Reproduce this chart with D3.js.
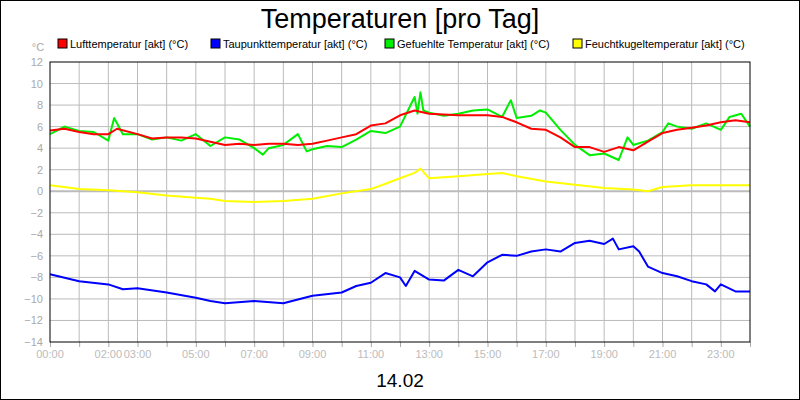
<!DOCTYPE html>
<html>
<head>
<meta charset="utf-8">
<script src="https://cdn.jsdelivr.net/npm/d3@7"></script>
<style>
body { margin: 0; background: #fff; }
text { font-family: "Liberation Sans", Arial, sans-serif; }
</style>
</head>
<body>
<svg id="chart" width="800" height="400"></svg>
<script>
// [hour, value] pairs
const luft = [[0,5.65],[0.5,5.8],[1,5.5],[1.5,5.3],[2,5.3],[2.3,5.8],[3,5.3],[3.5,4.9],[4,5.0],[4.5,5.0],[5,4.9],[5.5,4.6],[6,4.3],[6.5,4.4],[7,4.3],[7.5,4.4],[8,4.4],[8.5,4.3],[9,4.4],[9.5,4.7],[10,5.0],[10.5,5.3],[11,6.1],[11.5,6.3],[12,7.05],[12.5,7.5],[13,7.2],[14,7.05],[15,7.05],[15.5,6.9],[16,6.4],[16.5,5.8],[17,5.7],[17.5,5.0],[18,4.1],[18.5,4.1],[19,3.65],[19.5,4.1],[20,3.8],[20.5,4.6],[21,5.4],[21.5,5.7],[22,5.9],[22.5,6.1],[23,6.4],[23.5,6.6],[24,6.4]];
const taupunkt = [[0,-7.7],[1,-8.35],[2,-8.65],[2.5,-9.1],[3,-9.0],[4,-9.4],[5,-9.9],[5.5,-10.2],[6,-10.4],[7,-10.2],[8,-10.4],[8.5,-10.05],[9,-9.7],[10,-9.4],[10.5,-8.8],[11,-8.5],[11.5,-7.6],[12,-8.0],[12.2,-8.8],[12.5,-7.4],[13,-8.2],[13.5,-8.3],[14,-7.3],[14.5,-7.9],[15,-6.6],[15.5,-5.9],[16,-6.0],[16.5,-5.6],[17,-5.4],[17.5,-5.6],[18,-4.8],[18.5,-4.6],[19,-4.9],[19.3,-4.4],[19.5,-5.4],[20,-5.1],[20.2,-5.6],[20.5,-7.0],[21,-7.6],[21.5,-7.9],[22,-8.35],[22.5,-8.65],[22.8,-9.3],[23,-8.65],[23.5,-9.3],[24,-9.3]];
const gefuehlt = [[0,5.3],[0.5,6.0],[1,5.6],[1.5,5.5],[2,4.7],[2.2,6.8],[2.5,5.3],[3,5.3],[3.5,4.8],[4,5.0],[4.5,4.7],[5,5.3],[5.5,4.2],[6,5.0],[6.5,4.8],[7,4.0],[7.3,3.4],[7.5,4.0],[8,4.3],[8.5,5.3],[8.8,3.7],[9,3.9],[9.5,4.2],[10,4.1],[10.5,4.8],[11,5.6],[11.5,5.4],[12,6.0],[12.5,8.75],[12.6,7.2],[12.7,9.2],[12.8,7.5],[13,7.3],[13.5,7.0],[14,7.2],[14.5,7.5],[15,7.6],[15.5,6.9],[15.8,8.45],[16,6.8],[16.5,7.0],[16.8,7.5],[17,7.3],[17.5,5.7],[18,4.3],[18.5,3.35],[19,3.5],[19.5,2.9],[19.8,5.0],[20,4.3],[20.5,4.7],[21,5.5],[21.2,6.3],[21.5,6.0],[22,5.8],[22.5,6.3],[23,5.7],[23.3,6.9],[23.7,7.2],[24,6.0]];
const feucht = [[0,0.55],[1,0.2],[2,0.1],[3,-0.1],[4,-0.4],[5,-0.6],[5.5,-0.7],[6,-0.9],[7,-1.0],[8,-0.9],[9,-0.7],[10,-0.2],[11,0.2],[11.5,0.7],[12,1.2],[12.5,1.7],[12.7,2.1],[13,1.2],[14,1.4],[15,1.6],[15.5,1.7],[16,1.4],[17,0.9],[18,0.6],[19,0.3],[20,0.15],[20.5,0.0],[21,0.4],[22,0.55],[23,0.55],[24,0.55]];

const seriesNames = ["Lufttemperatur [akt] (°C)", "Taupunkttemperatur [akt] (°C)", "Gefuehlte Temperatur [akt] (°C)", "Feuchtkugeltemperatur [akt] (°C)"];
const seriesColors = ["#ff0000", "#0000ff", "#00ee00", "#ffff00"];
const seriesData = [gefuehlt, luft, taupunkt, feucht];
const drawColors = ["#00ee00", "#ff0000", "#0000ff", "#ffff00"];
const yTicks = d3.range(-14, 13, 2);
const xLabelHours = [0, 2, 3, 5, 7, 9, 11, 13, 15, 17, 19, 21, 23];

const svg = d3.select("#chart");
const pLeft = 50, pRight = 750, pTop = 62, pBottom = 342;

svg.append("rect").attr("x", 0.5).attr("y", 0.5).attr("width", 799).attr("height", 399)
.attr("fill", "#fff").attr("stroke", "#000");

svg.append("text").attr("x", 400).attr("y", 28).attr("text-anchor", "middle")
.attr("font-size", 27).text("Temperaturen [pro Tag]");

const x = d3.scaleLinear().domain([0, 24]).range([pLeft, pRight]);
const y = d3.scaleLinear().domain([-14, 12]).range([pBottom, pTop]);

// grid
svg.append("g").selectAll("line").data(d3.range(1, 24)).join("line")
.attr("x1", d => x(d)).attr("x2", d => x(d)).attr("y1", pTop).attr("y2", pBottom)
.attr("stroke", "#bbb");
svg.append("g").selectAll("line").data(yTicks.slice(1, -1)).join("line")
.attr("x1", pLeft).attr("x2", pRight).attr("y1", d => y(d)).attr("y2", d => y(d))
.attr("stroke", "#bbb").attr("stroke-width", d => d === 0 ? 2 : 1);

// y axis
const yAxis = svg.append("g").attr("transform", `translate(${pLeft},0)`)
.call(d3.axisLeft(y).tickValues(yTicks).tickSize(0).tickPadding(7));
yAxis.select(".domain").remove();
yAxis.selectAll("text").attr("fill", "#aaa").attr("font-size", 11);
svg.append("text").attr("x", 38).attr("y", 51).attr("fill", "#aaa").attr("font-size", 11)
.attr("text-anchor", "middle").text("°C");

// x axis
const xAxis = svg.append("g").attr("transform", `translate(0,${pBottom})`)
.call(d3.axisBottom(x).tickValues(d3.range(0, 25)).tickSize(5).tickFormat(() => ""));
xAxis.select(".domain").remove();
xAxis.selectAll("line").attr("stroke", "#aaa");
svg.append("g").selectAll("text").data(xLabelHours).join("text")
.attr("x", d => x(d)).attr("y", 358).attr("text-anchor", "middle")
.attr("fill", "#bbb").attr("font-size", 11)
.text(d => String(d).padStart(2, "0") + ":00");

// lines
const line = d3.line().x(d => x(d[0])).y(d => y(d[1]));
seriesData.forEach((s, i) => {
svg.append("path").datum(s).attr("d", line).attr("fill", "none")
.attr("stroke", drawColors[i]).attr("stroke-width", 2).attr("stroke-linejoin", "round");
});

svg.append("rect").attr("x", pLeft).attr("y", pTop).attr("width", pRight - pLeft).attr("height", pBottom - pTop)
.attr("fill", "none").attr("stroke", "#000");

// legend
const legX = [58, 211, 385, 573];
const leg = svg.append("g").selectAll("g").data(seriesNames).join("g")
.attr("transform", (d, i) => `translate(${legX[i]},39)`);
leg.append("rect").attr("width", 9).attr("height", 9).attr("fill", (d, i) => seriesColors[i]).attr("stroke", "#000");
leg.append("text").attr("x", 12).attr("y", 9).attr("font-size", 11).text(d => d);

svg.append("text").attr("x", 400).attr("y", 387).attr("text-anchor", "middle")
.attr("font-size", 19).text("14.02");
</script>
</body>
</html>
